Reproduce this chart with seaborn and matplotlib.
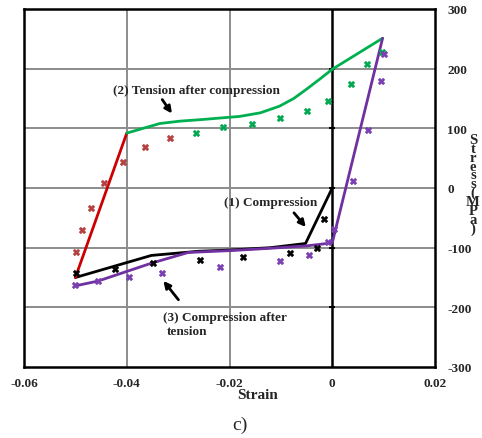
import matplotlib
matplotlib.use("Agg")
import matplotlib.pyplot as plt
import seaborn as sns
import pandas as pd

# Model curves (strain, stress in MPa)
compression_strain = [0.0, -0.0052, -0.012, -0.020, -0.026, -0.0352, -0.050]
compression_stress = [0, -93, -100, -104, -106, -113, -150]

unload_strain = [-0.050, -0.040]
unload_stress = [-150, 92]

tension_strain = [-0.040, -0.0336, -0.0297, -0.025, -0.018, -0.014, -0.0103, -0.0075,
                  -0.0051, -0.0025, 0.0, 0.0098]
tension_stress = [92, 108, 112, 115, 120, 126, 137, 150, 165, 182, 199, 251]

recompression_strain = [0.0098, 0.0, -0.005, -0.012, -0.020, -0.028, -0.0352, -0.0456, -0.050]
recompression_stress = [251, -92, -97, -101, -105, -108, -126, -156, -164]

# Test points
test_red_strain = [-0.0499, -0.0488, -0.0470, -0.0444, -0.0407, -0.0364, -0.0316]
test_red_stress = [-108, -70, -34, 8, 44, 68, 83]

test_green_strain = [-0.0266, -0.0212, -0.0157, -0.0102, -0.0049, -0.0008, 0.0036, 0.0067, 0.0097]
test_green_stress = [93, 102, 108, 117, 129, 145, 175, 207, 228]

test_purple_strain = [0.0100, 0.0095, 0.0069, 0.0041, 0.0004, -0.0008, -0.0046, -0.0102,
                      -0.0218, -0.0331, -0.0396, -0.0456, -0.0501]
test_purple_stress = [224, 179, 98, 12, -69, -91, -113, -122, -133, -142, -149, -156, -163]

test_black_strain = [-0.0016, -0.0030, -0.0083, -0.0174, -0.0257, -0.0348, -0.0423, -0.0499]
test_black_stress = [-52, -101, -109, -116, -121, -126, -135, -142]

x_ticks = [-0.06, -0.04, -0.02, 0.0, 0.02]
x_labels = ["-0.06", "-0.04", "-0.02", "0", "0.02"]
y_ticks = [-300, -200, -100, 0, 100, 200, 300]
y_labels = ["-300", "-200", "-100", "0", "100", "200", "300"]

sns.set_style("white")
plt.rcParams["font.family"] = ["Liberation Serif", "DejaVu Serif"]

fig = plt.figure(figsize=(4.82, 4.39), dpi=100)
ax = fig.add_axes([24 / 482, 71 / 439, 411 / 482, 358 / 439])

# grid
for gx in [-0.04, -0.02]:
    ax.axvline(gx, color="#8c8c8c", lw=1.4, zorder=0)
for gy in [-200, -100, 0, 100, 200]:
    ax.axhline(gy, color="#8c8c8c", lw=1.4, zorder=0)
ax.axvline(0, color="black", lw=1.8, zorder=1)
ax.scatter([0] * 5, [-200, -100, 0, 100, 200], marker="_", s=25, color="black",
           linewidths=1.5, zorder=2)


def curve(xs, ys, color):
    df = pd.DataFrame({"strain": xs, "stress": ys})
    sns.lineplot(data=df, x="strain", y="stress", sort=False, color=color,
                 lw=2.0, ax=ax, zorder=3, estimator=None)


def points(xs, ys, color):
    df = pd.DataFrame({"strain": xs, "stress": ys})
    sns.scatterplot(data=df, x="strain", y="stress", marker="X", s=24, color=color,
                    edgecolor=color, linewidth=0.3, ax=ax, zorder=4)


curve(compression_strain, compression_stress, "black")
curve(unload_strain, unload_stress, "#cc0000")
curve(tension_strain, tension_stress, "#00b050")
curve(recompression_strain, recompression_stress, "#7030a0")

points(test_red_strain, test_red_stress, "#b5403f")
points(test_green_strain, test_green_stress, "#00a84f")
points(test_purple_strain, test_purple_stress, "#7a3fb0")
points(test_black_strain, test_black_stress, "black")

ax.set_xlim(-0.06, 0.02)
ax.set_ylim(-300, 300)
ax.set_xticks(x_ticks)
ax.set_xticklabels(x_labels, fontweight="bold", fontsize=9.5)
ax.set_yticks(y_ticks)
ax.set_yticklabels(y_labels, fontweight="bold", fontsize=9.5)
ax.yaxis.tick_right()
ax.tick_params(axis="x", length=0, pad=7)
ax.tick_params(axis="y", length=0, pad=9)
ax.set_xlabel("")
ax.set_ylabel("")
for sp in ax.spines.values():
    sp.set_visible(True)
    sp.set_color("black")
    sp.set_linewidth(1.8)

# annotations
bold = dict(fontweight="bold", fontsize=9.5)
ax.annotate("(2) Tension after compression", xy=(-0.0309, 121), xytext=(-0.0264, 164),
            ha="center", va="center", **bold)
ax.annotate("", xy=(-0.0309, 121), xytext=(-0.0334, 152),
            arrowprops=dict(arrowstyle="-|>", color="black", lw=2, mutation_scale=10))
ax.text(-0.0119, -24, "(1) Compression", ha="center", va="center", **bold)
ax.annotate("", xy=(-0.0048, -69), xytext=(-0.0078, -38),
            arrowprops=dict(arrowstyle="-|>", color="black", lw=2, mutation_scale=10))
ax.text(-0.0330, -216, "(3) Compression after", ha="left", va="center", **bold)
ax.text(-0.0323, -240, "tension", ha="left", va="center", **bold)
ax.annotate("", xy=(-0.0332, -152), xytext=(-0.0296, -191),
            arrowprops=dict(arrowstyle="-|>", color="black", lw=2, mutation_scale=10))

# axis titles
fig.text(258 / 482, 1 - 396 / 439, "Strain", ha="center", va="center",
         fontweight="bold", fontsize=11)
fig.text(240 / 482, 1 - 425 / 439, "c)", ha="center", va="center", fontsize=14)
# stacked vertical stress label
fig.text(473 / 482, 1 - 185 / 439, "S\nt\nr\ne\ns\ns\n(\nM\nP\na\n)", ha="center",
         va="center", fontweight="bold", fontsize=10.5, linespacing=0.58)

fig.savefig("out.png", dpi=100)
